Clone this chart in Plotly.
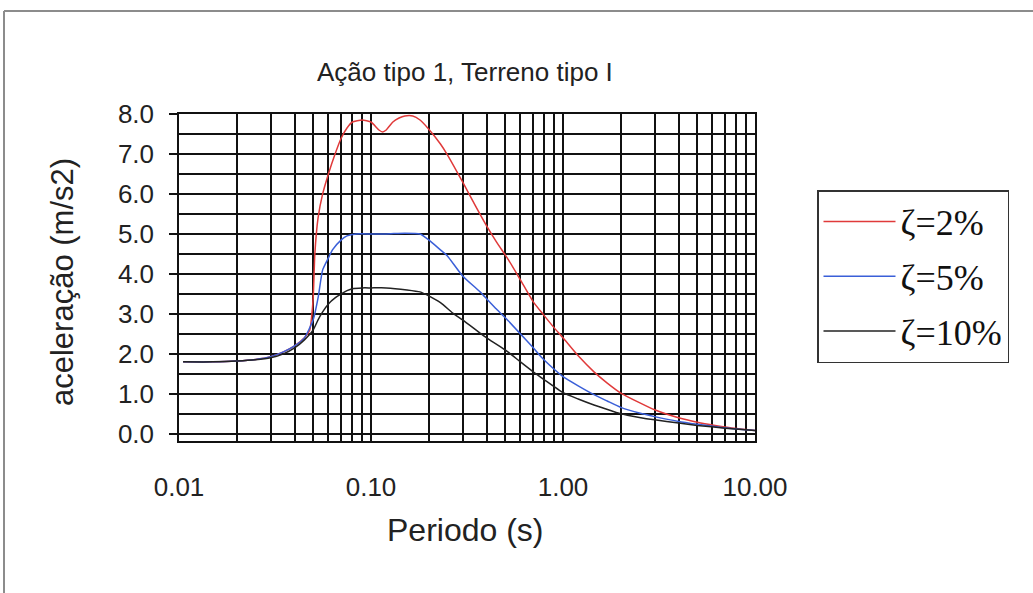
import plotly.graph_objects as go

# ---- data ----
t_2 = [0.0105, 0.015, 0.02, 0.025, 0.03, 0.035, 0.04, 0.045, 0.048, 0.049, 0.050, 0.051,
       0.053, 0.056, 0.06, 0.065, 0.07, 0.075, 0.08, 0.09, 0.10, 0.11, 0.115, 0.12, 0.13,
       0.14, 0.15, 0.165, 0.18, 0.2, 0.23, 0.25, 0.3, 0.35, 0.4, 0.45, 0.52, 0.6, 0.7,
       0.8, 0.9, 1.0, 1.2, 1.45, 1.7, 2.0, 2.5, 3.0, 4.0, 5.0, 6.2, 8.0, 10.0]
a_2 = [1.80, 1.80, 1.82, 1.86, 1.93, 2.05, 2.20, 2.40, 2.60, 2.90, 3.40, 4.50,
       5.40, 6.00, 6.50, 7.00, 7.40, 7.65, 7.80, 7.85, 7.80, 7.60, 7.55, 7.60, 7.80,
       7.90, 7.95, 7.95, 7.85, 7.62, 7.25, 6.98, 6.30, 5.70, 5.20, 4.80, 4.35, 3.85, 3.30,
       2.95, 2.65, 2.40, 1.95, 1.55, 1.27, 1.02, 0.78, 0.60, 0.40, 0.29, 0.21, 0.13, 0.08]

t_5 = [0.0105, 0.015, 0.02, 0.025, 0.03, 0.035, 0.04, 0.045, 0.05, 0.053, 0.056, 0.06,
       0.063, 0.07, 0.075, 0.084, 0.1, 0.12, 0.15, 0.18, 0.2, 0.23, 0.25, 0.3, 0.37, 0.4,
       0.45, 0.52, 0.6, 0.7, 0.77, 0.85, 1.0, 1.2, 1.45, 1.7, 2.0, 2.5, 3.0, 4.0, 5.0,
       6.7, 8.0, 10.0]
a_5 = [1.80, 1.80, 1.82, 1.86, 1.93, 2.05, 2.20, 2.40, 2.85, 3.40, 4.10, 4.40,
       4.60, 4.85, 4.95, 5.00, 5.00, 5.00, 5.02, 5.00, 4.85, 4.60, 4.45, 3.95, 3.55, 3.38,
       3.12, 2.82, 2.50, 2.15, 1.92, 1.72, 1.43, 1.20, 0.98, 0.82, 0.66, 0.52, 0.43, 0.31, 0.24,
       0.16, 0.12, 0.08]

t_10 = [0.0105, 0.015, 0.02, 0.025, 0.03, 0.035, 0.04, 0.045, 0.05, 0.053, 0.056, 0.06,
        0.065, 0.07, 0.075, 0.08, 0.09, 0.1, 0.12, 0.154, 0.18, 0.2, 0.23, 0.27, 0.3, 0.37,
        0.4, 0.5, 0.6, 0.7, 0.8, 1.0, 1.2, 1.45, 1.8, 2.0, 2.5, 3.0, 4.0, 5.0, 7.0, 10.0]
a_10 = [1.80, 1.80, 1.82, 1.85, 1.90, 2.00, 2.15, 2.35, 2.60, 2.85, 3.05, 3.25,
        3.40, 3.50, 3.58, 3.63, 3.65, 3.65, 3.65, 3.60, 3.55, 3.45, 3.28, 3.00, 2.85, 2.52,
        2.40, 2.10, 1.80, 1.55, 1.35, 1.03, 0.87, 0.72, 0.57, 0.50, 0.41, 0.35, 0.27, 0.21,
        0.14, 0.08]

series_names = ["ζ=2%", "ζ=5%", "ζ=10%"]
series_colors = ["#e03a3a", "#3a5fd8", "#222222"]

x_gridvals = [m * 10 ** e for e in (-2, -1, 0) for m in range(1, 10)] + [10]
x_labels = {0.01: "0.01", 0.1: "0.10", 1: "1.00", 10: "10.00"}
x_ticktext = [x_labels.get(round(v, 6), "") for v in x_gridvals]

title_text = "Ação tipo 1, Terreno tipo I"
x_title = "Periodo (s)"
y_title = "aceleração (m/s2)"

# ---- figure ----
fig = go.Figure()
for t, a, name, col in zip([t_2, t_5, t_10], [a_2, a_5, a_10], series_names, series_colors):
    fig.add_trace(go.Scatter(x=t, y=a, mode="lines", name=name, legendgroup=name,
                             line=dict(color=col, width=1.5, shape="spline", smoothing=0.5)))

W, H = 1033, 593
L, R, T, B = 179, 278, 114, 152
pw, ph = W - L - R, H - T - B

def px(xp):
    return (xp - L) / pw

def py(yp):
    return (H - B - yp) / ph

grid = dict(color="#111111", width=1.5)
fig.update_layout(
    width=W, height=H,
    margin=dict(l=L, r=R, t=T, b=B, pad=0),
    paper_bgcolor="white", plot_bgcolor="white",
    font=dict(family="Liberation Sans, Arial, sans-serif", size=26, color="#222222"),
    showlegend=True,
    legend=dict(x=px(817), y=py(190), xanchor="left", yanchor="top",
                bordercolor="#333333", borderwidth=1.5, bgcolor="white",
                font=dict(family="Liberation Serif, Times New Roman, serif", size=36, color="#111111"),
                tracegroupgap=5, itemwidth=72),
    xaxis=dict(type="log", range=[-2, 1], tickmode="array", tickvals=x_gridvals,
               ticktext=x_ticktext, showgrid=True, gridcolor=grid["color"], gridwidth=grid["width"],
               showline=True, linecolor="#111111", linewidth=1.5, mirror=True,
               ticks="", ticklabelstandoff=22, zeroline=False,
               tickfont=dict(size=26)),
    yaxis=dict(range=[-0.18, 8.0], tick0=0, dtick=1, tickformat=".1f",
               showgrid=True, gridcolor=grid["color"], gridwidth=grid["width"],
               minor=dict(dtick=0.5, tick0=0, showgrid=True, gridcolor=grid["color"], gridwidth=grid["width"]),
               showline=True, linecolor="#111111", linewidth=1.5, mirror=True,
               ticks="outside", ticklen=8, tickwidth=1.5, tickcolor="#111111",
               ticklabelstandoff=10, zeroline=False, tickfont=dict(size=26)),
    annotations=[
        dict(text=title_text, xref="paper", yref="paper", x=px(465), y=py(72),
             xanchor="center", yanchor="middle", showarrow=False,
             font=dict(size=26)),
        dict(text=x_title, xref="paper", yref="paper", x=px(465), y=py(530),
             xanchor="center", yanchor="middle", showarrow=False,
             font=dict(size=32)),
        dict(text=y_title, xref="paper", yref="paper", x=px(62), y=py(282),
             xanchor="center", yanchor="middle", showarrow=False, textangle=-90,
             font=dict(size=31)),
    ],
    shapes=[
        dict(type="line", xref="paper", yref="paper", x0=px(4), x1=px(4),
             y0=py(11), y1=py(640), line=dict(color="#8c8c8c", width=2), layer="below"),
        dict(type="line", xref="paper", yref="paper", x0=px(4), x1=px(1100),
             y0=py(11), y1=py(11), line=dict(color="#8c8c8c", width=2), layer="below"),
    ],
)

fig.write_html("out.html")
